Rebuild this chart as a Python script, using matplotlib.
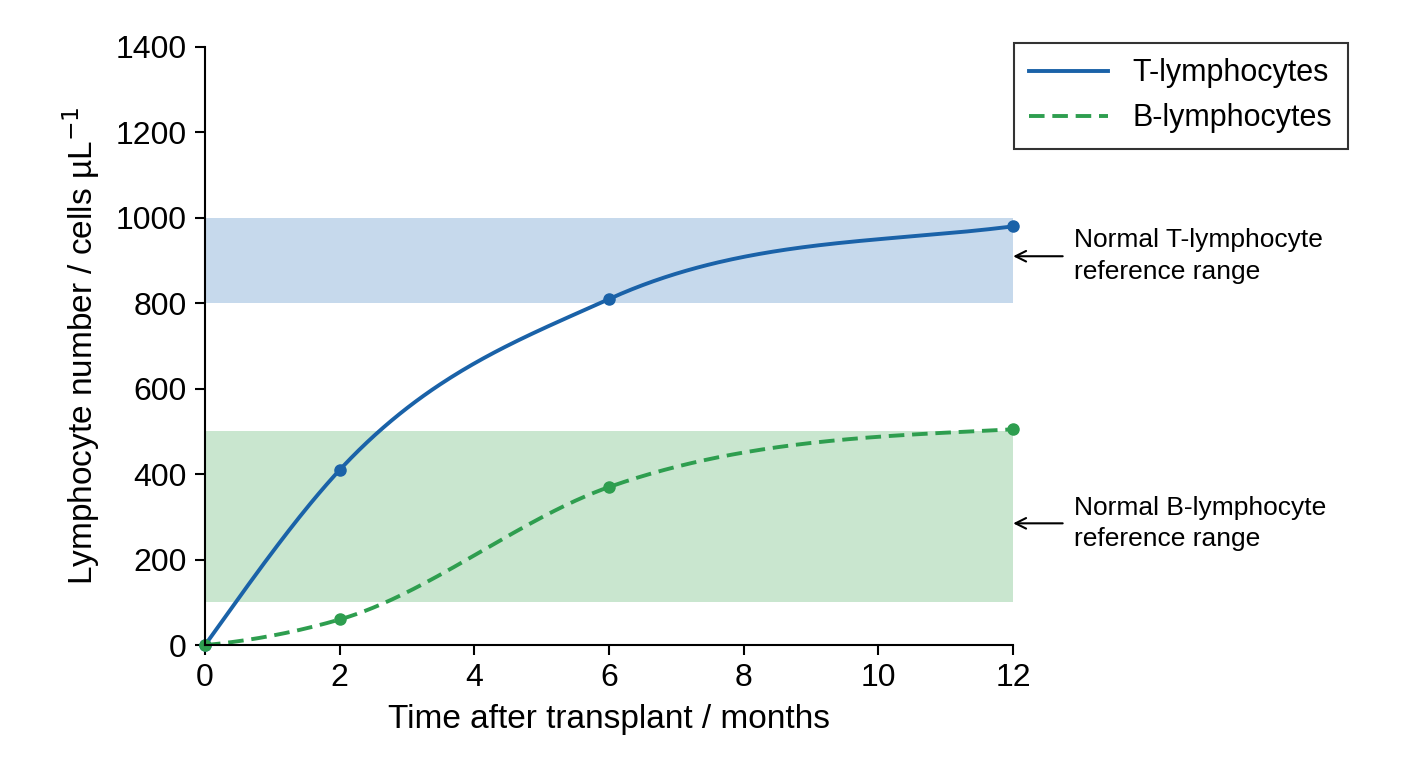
import numpy as np
import matplotlib.pyplot as plt

months = [0, 2, 6, 12]
t_cells = [0, 410, 810, 980]
b_cells = [0, 60, 370, 505]
t_range = (800, 1000)
b_range = (100, 500)


def smooth(x, y, xs, end_slopes):
    # cubic Hermite curve through the data points (drawing only)
    x = np.asarray(x, float); y = np.asarray(y, float)
    h = np.diff(x); d = np.diff(y) / h
    m = np.zeros_like(y)
    m[0], m[-1] = end_slopes
    for k in range(1, len(x) - 1):
        m[k] = (d[k - 1] * h[k] + d[k] * h[k - 1]) / (h[k] + h[k - 1])
    out = []
    for v in xs:
        k = min(np.searchsorted(x, v, side='right') - 1, len(x) - 2)
        t = (v - x[k]) / h[k]
        h00 = 2*t**3 - 3*t**2 + 1; h10 = t**3 - 2*t**2 + t
        h01 = -2*t**3 + 3*t**2; h11 = t**3 - t**2
        out.append(h00*y[k] + h10*h[k]*m[k] + h01*y[k+1] + h11*h[k]*m[k+1])
    return np.array(out)


plt.rcParams['font.family'] = ['Liberation Sans', 'DejaVu Sans']
fig = plt.figure(figsize=(14.08, 7.68), dpi=100)
ax = fig.add_axes([0.1456, 0.160, 0.574, 0.779])

blue = '#1a62a8'
green = '#2e9e4f'
ax.fill_between([0, 12], *t_range, color='#c6d9ec', lw=0)
ax.fill_between([0, 12], *b_range, color='#c9e6cf', lw=0)

xs = np.linspace(0, 12, 300)
ax.plot(xs, smooth(months, t_cells, xs, (220, 20)), color=blue, lw=2.8, label='T-lymphocytes')
ax.plot(xs, smooth(months, b_cells, xs, (15, 8)), color=green, lw=2.8, ls=(0, (4, 2)), label='B-lymphocytes')
ax.plot(months, t_cells, 'o', color=blue, ms=8, clip_on=False)
ax.plot(months, b_cells, 'o', color=green, ms=8, clip_on=False)

ax.set_xlim(0, 12)
ax.set_ylim(0, 1400)
ax.set_xticks([0, 2, 4, 6, 8, 10, 12])
ax.set_yticks(range(0, 1401, 200))
ax.tick_params(labelsize=23, width=1.5, length=7, pad=6)
for s in ['top', 'right']:
    ax.spines[s].set_visible(False)
for s in ['left', 'bottom']:
    ax.spines[s].set_linewidth(1.5)
ax.set_xlabel('Time after transplant / months', fontsize=24, labelpad=8)
ax.set_ylabel('Lymphocyte number / cells µL$^{-1}$', fontsize=24, labelpad=10)

leg = ax.legend(loc='upper right', bbox_to_anchor=(0.968, 0.964), bbox_transform=fig.transFigure,
                fontsize=22, frameon=True, fancybox=False, edgecolor='black', handlelength=2.6,
                borderpad=0.5, labelspacing=0.5)
leg.get_frame().set_linewidth(1.5)

for y, txt in [(910, 'Normal T-lymphocyte\nreference range'), (285, 'Normal B-lymphocyte\nreference range')]:
    ax.annotate(txt, xy=(12, y), xytext=(12.9, y), fontsize=19, va='center', ha='left',
                linespacing=1.4, annotation_clip=False,
                arrowprops=dict(arrowstyle='->', color='black', lw=1.5, shrinkA=6, shrinkB=0))

fig.savefig('out.png', dpi=100)
